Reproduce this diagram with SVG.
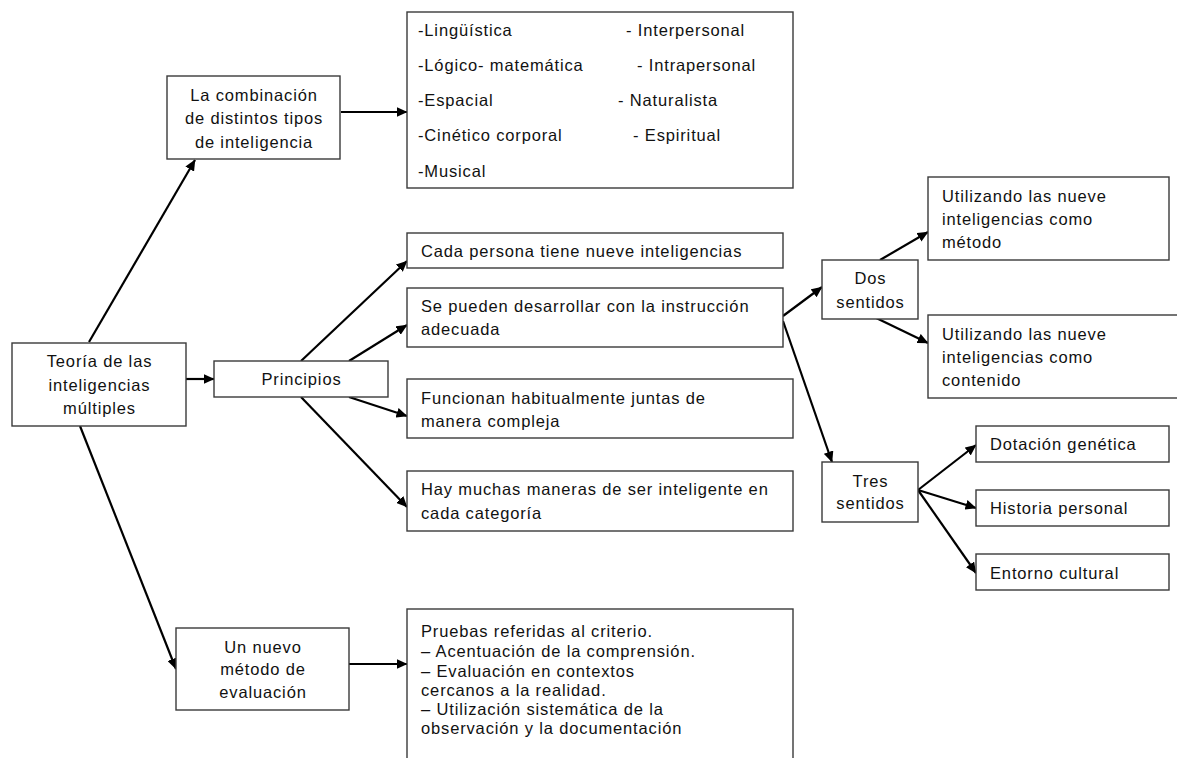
<svg xmlns="http://www.w3.org/2000/svg" width="1177" height="758" viewBox="0 0 1177 758">
<defs>
<marker id="ah" viewBox="0 0 11 10" refX="10.5" refY="5" markerWidth="11" markerHeight="10" markerUnits="userSpaceOnUse" orient="auto">
<path d="M0,0 L11,5 L0,10 z" fill="#000"/>
</marker>
<style>
.box{fill:#fff;stroke:#3a3a3a;stroke-width:1.4}
.t{font-family:"Liberation Sans",Arial,sans-serif;font-size:16.5px;letter-spacing:0.85px;fill:#111}
.c{text-anchor:middle}
.cn line{stroke:#000;stroke-width:2.2;marker-end:url(#ah)}
</style>
</defs>
<rect width="1177" height="758" fill="#fff"/>

<g id="connectors" class="cn">
<line x1="89" y1="342" x2="195" y2="160"/>
<line x1="186" y1="379" x2="214" y2="379"/>
<line x1="80" y1="426" x2="176" y2="669"/>
<line x1="341" y1="112" x2="407" y2="112"/>
<line x1="301" y1="361" x2="407" y2="261"/>
<line x1="349" y1="361" x2="407" y2="325"/>
<line x1="349" y1="397" x2="407" y2="416"/>
<line x1="301" y1="397" x2="407" y2="507"/>
<line x1="349" y1="664" x2="407" y2="664"/>
<line x1="783" y1="316" x2="822" y2="287"/>
<line x1="783" y1="321" x2="832" y2="462"/>
<line x1="880" y1="260" x2="928" y2="232"/>
<line x1="870" y1="315" x2="928" y2="343"/>
<line x1="918" y1="490" x2="976" y2="445"/>
<line x1="918" y1="490" x2="976" y2="508"/>
<line x1="918" y1="490" x2="976" y2="573"/>
</g>

<g id="teoria">
<rect class="box" x="12" y="343" width="174" height="83"/>
<text class="t c" x="99.5" y="367">Teoría de las</text>
<text class="t c" x="99.5" y="391">inteligencias</text>
<text class="t c" x="99.5" y="414">múltiples</text>
</g>

<g id="combinacion">
<rect class="box" x="167" y="76" width="173" height="83"/>
<text class="t c" x="254" y="101">La combinación</text>
<text class="t c" x="254" y="124">de distintos tipos</text>
<text class="t c" x="254" y="148">de inteligencia</text>
</g>

<g id="tipos">
<rect class="box" x="407" y="12" width="386" height="176"/>
<text class="t" x="418" y="36">-Lingüística</text>
<text class="t" x="418" y="71">-Lógico- matemática</text>
<text class="t" x="418" y="106">-Espacial</text>
<text class="t" x="418" y="141">-Cinético corporal</text>
<text class="t" x="418" y="177">-Musical</text>
<text class="t" x="626" y="36">- Interpersonal</text>
<text class="t" x="637" y="71">- Intrapersonal</text>
<text class="t" x="618" y="106">- Naturalista</text>
<text class="t" x="633" y="141">- Espiritual</text>
</g>

<g id="principios">
<rect class="box" x="214" y="361" width="174" height="36"/>
<text class="t c" x="301.5" y="385">Principios</text>
</g>

<g id="cada">
<rect class="box" x="407" y="233" width="376" height="35"/>
<text class="t" x="421" y="257">Cada persona tiene nueve inteligencias</text>
</g>

<g id="sepueden">
<rect class="box" x="407" y="288" width="376" height="59"/>
<text class="t" x="421" y="312">Se pueden desarrollar con la instrucción</text>
<text class="t" x="421" y="335">adecuada</text>
</g>

<g id="funcionan">
<rect class="box" x="407" y="379" width="386" height="59"/>
<text class="t" x="421" y="404">Funcionan habitualmente juntas de</text>
<text class="t" x="421" y="427">manera compleja</text>
</g>

<g id="haymuchas">
<rect class="box" x="407" y="471" width="386" height="60"/>
<text class="t" x="421" y="495">Hay muchas maneras de ser inteligente en</text>
<text class="t" x="421" y="519">cada categoría</text>
</g>

<g id="nuevo">
<rect class="box" x="176" y="628" width="173" height="82"/>
<text class="t c" x="263" y="653">Un nuevo</text>
<text class="t c" x="263" y="675">método de</text>
<text class="t c" x="263" y="698">evaluación</text>
</g>

<g id="pruebas">
<rect class="box" x="407" y="609" width="386" height="160"/>
<text class="t" x="421" y="637">Pruebas referidas al criterio.</text>
<text class="t" x="421" y="657">– Acentuación de la comprensión.</text>
<text class="t" x="421" y="677">– Evaluación en contextos</text>
<text class="t" x="421" y="696">cercanos a la realidad.</text>
<text class="t" x="421" y="715">– Utilización sistemática de la</text>
<text class="t" x="421" y="734">observación y la documentación</text>
</g>

<g id="dos">
<rect class="box" x="822" y="260" width="96" height="59"/>
<text class="t c" x="870.5" y="284">Dos</text>
<text class="t c" x="870.5" y="308">sentidos</text>
</g>

<g id="metodo">
<rect class="box" x="928" y="177" width="241" height="83"/>
<text class="t" x="942" y="202">Utilizando las nueve</text>
<text class="t" x="942" y="225">inteligencias como</text>
<text class="t" x="942" y="248">método</text>
</g>

<g id="contenido">
<rect class="box" x="928" y="315" width="260" height="83"/>
<text class="t" x="942" y="340">Utilizando las nueve</text>
<text class="t" x="942" y="363">inteligencias como</text>
<text class="t" x="942" y="386">contenido</text>
</g>

<g id="tres">
<rect class="box" x="822" y="462" width="96" height="60"/>
<text class="t c" x="870.5" y="487">Tres</text>
<text class="t c" x="870.5" y="509">sentidos</text>
</g>

<g id="dotacion">
<rect class="box" x="976" y="426" width="193" height="36"/>
<text class="t" x="990" y="450">Dotación genética</text>
</g>

<g id="historia">
<rect class="box" x="976" y="490" width="193" height="36"/>
<text class="t" x="990" y="514">Historia personal</text>
</g>

<g id="entorno">
<rect class="box" x="976" y="554" width="193" height="36"/>
<text class="t" x="990" y="579">Entorno cultural</text>
</g>
</svg>
